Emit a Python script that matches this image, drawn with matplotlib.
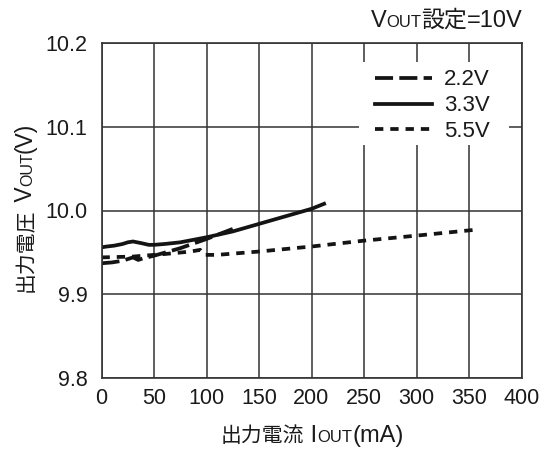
import matplotlib
matplotlib.use('Agg')
import matplotlib.pyplot as plt
from matplotlib.patches import Rectangle

plt.rcParams['lines.scale_dashes'] = False
FAM = ['Liberation Sans', 'Noto Sans CJK JP', 'DejaVu Sans']
plt.rcParams['font.family'] = FAM

# ---- data ----
i_22 = [0, 10, 20, 25, 30, 35, 40, 50, 75, 100, 125]
v_22 = [9.937, 9.938, 9.940, 9.942, 9.944, 9.941, 9.943, 9.946, 9.955, 9.966, 9.978]

i_33 = [0, 5, 12, 20, 25, 30, 38, 45, 50, 60, 75, 100, 125, 150, 175, 200, 212]
v_33 = [9.956, 9.957, 9.958, 9.960, 9.962, 9.963, 9.961, 9.959, 9.959, 9.960,
        9.962, 9.968, 9.975, 9.984, 9.993, 10.002, 10.008]

i_55 = [0, 30, 60, 85, 94, 98, 110, 150, 200, 250, 300, 356]
v_55 = [9.944, 9.945, 9.948, 9.951, 9.953, 9.947, 9.947, 9.951, 9.957, 9.964, 9.970, 9.977]

labels = ['2.2V', '3.3V', '5.5V']
x_ticks = [0, 50, 100, 150, 200, 250, 300, 350, 400]
y_ticks = [9.8, 9.9, 10.0, 10.1, 10.2]
y_tick_labels = ['9.8', '9.9', '10.0', '10.1', '10.2']

FS_TICK = 15.5
FS_LEG = 16

W, H = 542, 451
fig = plt.figure(figsize=(W / 100, H / 100), dpi=100)
ax = fig.add_axes([101.5 / W, 1 - 378 / H, 420 / W, 335 / H])

ax.plot(i_22, v_22, color='#141414', lw=2.7, dashes=(13, 4.5), label=labels[0])
ax.plot(i_33, v_33, color='#141414', lw=2.7, label=labels[1])
ax.plot(i_55, v_55, color='#141414', lw=2.7, dashes=(6, 5), label=labels[2])

ax.set_xlim(0, 400)
ax.set_ylim(9.8, 10.2)
ax.set_xticks(x_ticks)
ax.set_yticks(y_ticks)
ax.set_yticklabels(y_tick_labels)
ax.grid(True, color='#333333', lw=1.1)
ax.set_axisbelow(True)
for s in ax.spines.values():
    s.set_color('#333333')
    s.set_linewidth(1.2)
ax.tick_params(axis='both', length=0, labelsize=FS_TICK, colors='#1a1a1a')
ax.tick_params(axis='x', pad=7)
ax.tick_params(axis='y', pad=10)

# white background behind the legend (covers the grid)
ax.add_patch(Rectangle((0.613, 0.696), 0.357, 0.247, transform=ax.transAxes,
                       facecolor='white', edgecolor='none', zorder=1))

leg = ax.legend(loc='upper left', bbox_to_anchor=(0.651, 0.921), frameon=False,
                fontsize=FS_LEG, handlelength=2.57, handletextpad=0.54,
                labelspacing=0.22, borderpad=0, borderaxespad=0)
for t in leg.get_texts():
    t.set_color('#1a1a1a')

renderer = fig.canvas.get_renderer()


def mixed(pieces, x, y, align='center', rotation=0):
    widths = []
    for s, size in pieces:
        t = fig.text(0, 0, s, fontsize=size, family=FAM)
        widths.append(t.get_window_extent(renderer).width)
        t.remove()
    total = sum(widths)
    if rotation == 0:
        start = x - total / 2 if align == 'center' else x - total
        pos = start
        for (s, size), w in zip(pieces, widths):
            fig.text(pos / W, 1 - y / H, s, fontsize=size, family=FAM,
                     ha='left', va='baseline', color='#1a1a1a')
            pos += w
    else:
        start = (H - y) - total / 2
        pos = start
        for (s, size), w in zip(pieces, widths):
            fig.text(x / W, pos / H, s, fontsize=size, family=FAM, rotation=90,
                     rotation_mode='anchor', ha='left', va='baseline', color='#1a1a1a')
            pos += w


mixed([('V', 17), ('OUT', 12), ('設定', 16.5), ('=10V', 17)], 523, 27, align='right')
mixed([('出力電流', 15), (' I', 17), ('OUT', 12), ('(mA)', 17)], 312, 442)
mixed([('出力電圧', 15), (' V', 16.5), ('OUT', 11.5), ('(V)', 16.5)], 32, 207, rotation=90)

fig.savefig('out.png', dpi=100)
